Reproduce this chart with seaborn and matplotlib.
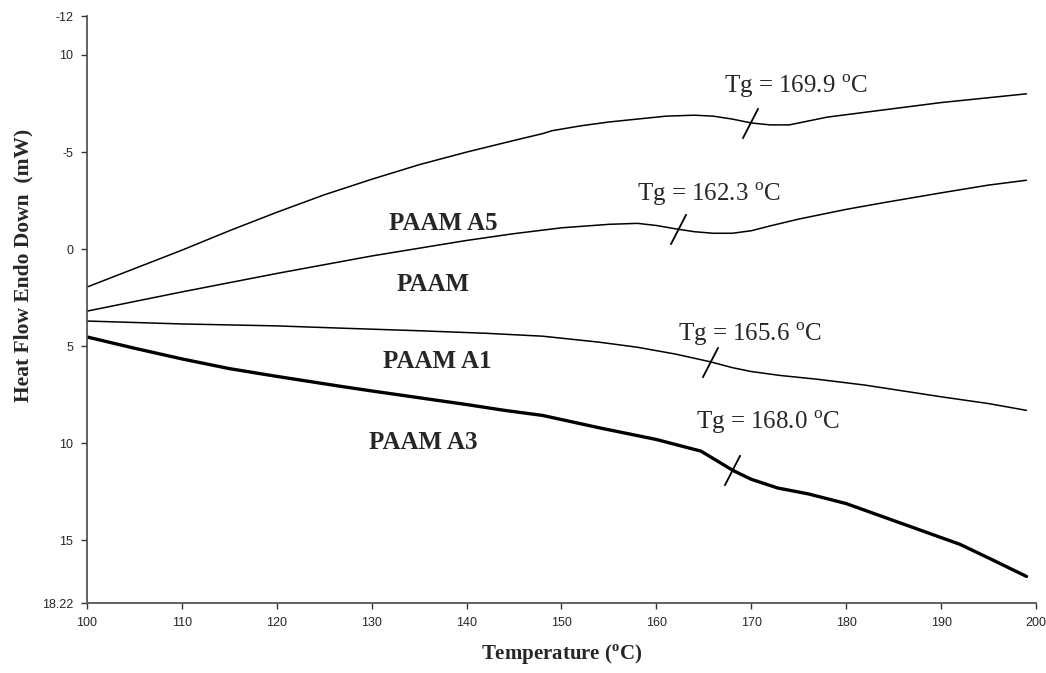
import numpy as np
import pandas as pd
import matplotlib
matplotlib.use('Agg')
import matplotlib.pyplot as plt
import seaborn as sns

# DSC curves (temperature in C, heat flow in mW)
t_a5 = [100, 105, 110, 115, 120, 125, 130, 135, 140, 145, 148, 149, 152, 155, 158, 161,
        164, 166, 168, 170, 172, 174, 176, 178, 182, 186, 190, 195, 199]
hf_a5 = [1.95, 1.0, 0.05, -0.95, -1.9, -2.8, -3.6, -4.35, -5.0, -5.6, -5.95, -6.1, -6.35,
         -6.55, -6.7, -6.85, -6.9, -6.85, -6.7, -6.5, -6.4, -6.4, -6.6, -6.8, -7.05, -7.3,
         -7.55, -7.8, -8.0]

t_paam = [100, 110, 120, 130, 140, 145, 150, 155, 158, 160, 162, 164, 166, 168, 170, 172,
          175, 180, 184, 190, 195, 199]
hf_paam = [3.19, 2.2, 1.25, 0.35, -0.45, -0.8, -1.1, -1.28, -1.33, -1.22, -1.05, -0.9,
           -0.82, -0.82, -0.95, -1.2, -1.55, -2.05, -2.4, -2.9, -3.3, -3.55]

t_a1 = [100, 110, 120, 127, 135, 142, 148, 154, 158, 162, 165.7, 168, 170, 173, 177, 182,
        186, 190, 195, 199]
hf_a1 = [3.7, 3.85, 3.95, 4.07, 4.2, 4.33, 4.48, 4.79, 5.05, 5.4, 5.8, 6.1, 6.3, 6.5, 6.7,
         7.0, 7.3, 7.6, 7.95, 8.3]

t_a3 = [100, 105, 110, 115, 120, 126.7, 130, 135, 140, 144, 148, 154, 160, 164.7, 168.1,
        170, 172.8, 176, 180, 184, 188, 192, 195, 199]
hf_a3 = [4.52, 5.1, 5.65, 6.15, 6.55, 7.06, 7.3, 7.65, 8.0, 8.3, 8.56, 9.2, 9.8, 10.4, 11.4,
         11.85, 12.3, 12.6, 13.1, 13.8, 14.5, 15.2, 15.9, 16.85]

samples = ['PAAM A5', 'PAAM', 'PAAM A1', 'PAAM A3']
tg_values = [169.9, 162.3, 165.6, 168.0]

y_ticks = [-12, -10, -5, 0, 5, 10, 15, 18.22]
y_tick_labels = ['-12', '10', '-5', '0', '5', '10', '15', '18.22']
x_ticks = [100, 110, 120, 130, 140, 150, 160, 170, 180, 190, 200]

curves = {'PAAM A5': (t_a5, hf_a5), 'PAAM': (t_paam, hf_paam),
          'PAAM A1': (t_a1, hf_a1), 'PAAM A3': (t_a3, hf_a3)}
frames = []
for name in samples:
    t, hf = curves[name]
    frames.append(pd.DataFrame({'temp': t, 'heat': hf, 'sample': name}))
df = pd.concat(frames, ignore_index=True)

sns.set_style('ticks')
plt.rcParams['font.family'] = ['Liberation Sans', 'DejaVu Sans']
plt.rcParams['mathtext.fontset'] = 'custom'
plt.rcParams['mathtext.rm'] = 'Liberation Serif'
plt.rcParams['mathtext.bf'] = 'Liberation Serif:bold'

fig = plt.figure(figsize=(10.46, 6.73), dpi=100)
ax = fig.add_axes([0.0832, 0.104, 0.9072, 0.872])

sns.lineplot(data=df, x='temp', y='heat', hue='sample', size='sample',
             palette={s: 'black' for s in samples},
             sizes={'PAAM A5': 1.1, 'PAAM': 1.1, 'PAAM A1': 1.1, 'PAAM A3': 2.4},
             estimator=None, sort=False, legend=False, ax=ax)

ax.set_xlim(100, 200)
ax.set_ylim(18.22, -12)
ax.set_xticks(x_ticks)
ax.set_xticklabels([str(x) for x in x_ticks], fontsize=9)
ax.set_yticks(y_ticks)
ax.set_yticklabels(y_tick_labels, fontsize=9)
ax.tick_params(length=4, width=1, color='#333333', pad=6)
for side in ['left', 'bottom']:
    ax.spines[side].set_color('#555555')
    ax.spines[side].set_linewidth(1.3)
sns.despine(ax=ax)

serif = ['Liberation Serif', 'DejaVu Serif']
ax.set_xlabel('Temperature ($^{\\mathbf{o}}$C)', fontsize=15, fontweight='bold',
              family=serif, labelpad=10)
ax.set_ylabel('Heat Flow Endo Down  (mW)', fontsize=15.5, fontweight='bold',
              family=serif)
ax.yaxis.set_label_coords(-0.056, 0.575)

# Tg tick marks on each curve and their labels
tg_text_pos = [(174.7, -8.4), (165.5, -2.8), (169.9, 4.4), (171.7, 8.9)]
for name, tg, (tx, ty) in zip(samples, tg_values, tg_text_pos):
    t, hf = curves[name]
    yv = np.interp(tg, t, hf)
    ax.plot([tg], [yv], marker=[(-8, -15.5), (8, 15.5)], ms=22, mew=1.3,
            color='black', linestyle='none')
    ax.text(tx, ty, 'Tg = %.1f $^{\\mathrm{o}}$C' % tg, fontsize=18, family=serif,
            ha='center', va='center')

label_pos = [(137.5, -1.3), (136.5, 1.8), (136.9, 5.8), (135.4, 9.95)]
for name, (lx, ly) in zip(samples, label_pos):
    ax.text(lx, ly, name, fontsize=18, fontweight='bold', family=serif,
            ha='center', va='center')

fig.savefig('out.png', dpi=100)
